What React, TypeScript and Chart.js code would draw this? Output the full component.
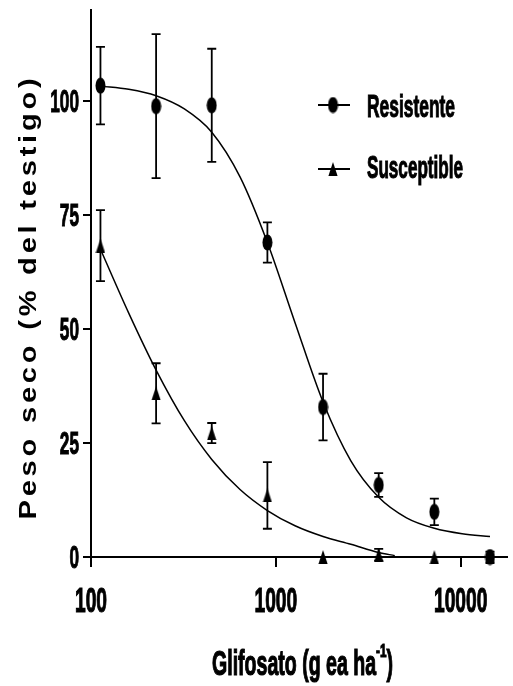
import React, { useEffect, useRef } from 'react';
import { Chart, registerables } from 'chart.js';

Chart.register(...registerables);

// ---- data ----
const doses = [112.5, 225, 450, 900, 1800, 3600, 7200, 14400];
const resistMean = [103.4, 98.9, 99.1, 69.0, 32.9, 15.8, 9.9, 0];
const resistErr = [8.5, 15.8, 12.4, 4.4, 7.3, 2.6, 2.9, 1.2];
const suscMean = [68.3, 35.9, 27.2, 13.5, 0, 0.5, 0, 0];
const suscErr = [7.8, 6.6, 2.2, 7.3, 0, 1.3, 0, 0];

// fitted curves
const resistCurveDose = [112.5, 160, 225, 320, 450, 640, 900, 1270, 1800, 2545, 3600, 5090, 7200, 10180, 14400];
const resistCurve = [103.3, 102.6, 101.2, 98.3, 93.2, 83.4, 69.0, 51.4, 34.0, 21.1, 13.1, 8.6, 6.3, 5.1, 4.5];
const suscCurveDose = [112.5, 160, 225, 320, 450, 640, 900, 1270, 1800, 2545, 3600, 4400];
const suscCurve = [67.5, 53.5, 41.0, 29.9, 21.4, 14.8, 10.2, 6.85, 4.5, 2.8, 1.0, 0.3];

const xTickValues = [100, 1000, 10000];
const yTickValues = [0, 25, 50, 75, 100];
const seriesNames = ['Resistente', 'Susceptible'];
const xTitleMain = 'Glifosato (g ea ha';
const xTitleSup = '-1';
const xTitleEnd = ')';
const yTitle = 'Peso seco (% del testigo)';

const FONT = '"Liberation Sans", Arial, sans-serif';

function makeEllipse(): HTMLCanvasElement {
  const c = document.createElement('canvas');
  c.width = 11; c.height = 17;
  const g = c.getContext('2d')!;
  g.fillStyle = '#000';
  g.beginPath();
  g.ellipse(5.5, 8.5, 5, 8, 0, 0, Math.PI * 2);
  g.fill();
  return c;
}
function makeTriangle(): HTMLCanvasElement {
  const c = document.createElement('canvas');
  c.width = 10; c.height = 14;
  const g = c.getContext('2d')!;
  g.fillStyle = '#000';
  g.beginPath();
  g.moveTo(5, 0); g.lineTo(9.6, 14); g.lineTo(0.4, 14); g.closePath();
  g.fill();
  return c;
}

function drawText(ctx: CanvasRenderingContext2D, text: string, x: number, y: number, size: number, sx: number, sy: number, align: CanvasTextAlign) {
  ctx.save();
  ctx.translate(x, y);
  ctx.scale(sx, sy);
  ctx.font = `bold ${size}px ${FONT}`;
  ctx.textAlign = align;
  ctx.textBaseline = 'alphabetic';
  ctx.fillStyle = '#000';
  ctx.strokeStyle = '#000';
  ctx.lineWidth = 0.7;
  ctx.fillText(text, 0, 0);
  ctx.strokeText(text, 0, 0);
  ctx.restore();
}

export default function App() {
  const ref = useRef<HTMLCanvasElement | null>(null);
  useEffect(() => {
    document.body.style.margin = '0';
    const ellipse = makeEllipse();
    const tri = makeTriangle();

    const errorBars = {
      id: 'errorBars',
      beforeDatasetsDraw(chart: any) {
        const { ctx, scales } = chart;
        const x = scales.x, y = scales.y;
        ctx.save();
        ctx.strokeStyle = '#000';
        ctx.lineWidth = 1.8;
        const sets: [number[], number[]][] = [[resistMean, resistErr], [suscMean, suscErr]];
        sets.forEach(([m, e]) => {
          doses.forEach((d, i) => {
            if (e[i] <= 0) return;
            const px = x.getPixelForValue(d);
            const top = y.getPixelForValue(m[i] + e[i]);
            const bot = y.getPixelForValue(m[i] - e[i]);
            ctx.beginPath();
            ctx.moveTo(px, top); ctx.lineTo(px, bot);
            ctx.moveTo(px - 4.5, top); ctx.lineTo(px + 4.5, top);
            ctx.moveTo(px - 4.5, bot); ctx.lineTo(px + 4.5, bot);
            ctx.stroke();
          });
        });
        ctx.restore();
      },
    };

    const texts = {
      id: 'texts',
      afterDraw(chart: any) {
        const { ctx, scales } = chart;
        const x = scales.x, y = scales.y;
        // x tick labels
        x.ticks.forEach((t: any) => {
          drawText(ctx, String(t.value), x.getPixelForValue(t.value), 612, 20, 0.96, 1.75, 'center');
        });
        // y tick labels
        y.ticks.forEach((t: any) => {
          drawText(ctx, String(t.value), 79, y.getPixelForValue(t.value) + 11, 20, 0.86, 1.54, 'right');
        });
        // x title
        ctx.save();
        ctx.font = `bold 20px ${FONT}`;
        const w1 = ctx.measureText(xTitleMain).width;
        const w3 = ctx.measureText(xTitleEnd).width;
        ctx.font = `bold 12px ${FONT}`;
        const w2 = ctx.measureText(xTitleSup).width;
        ctx.restore();
        const total = w1 + w2 + w3;
        const sx = 181 / total;
        const x0 = 212;
        drawText(ctx, xTitleMain, x0, 675, 20, sx, 1.75, 'left');
        drawText(ctx, xTitleSup, x0 + w1 * sx, 657, 12, sx, 1.6, 'left');
        drawText(ctx, xTitleEnd, x0 + (w1 + w2) * sx, 675, 20, sx, 1.75, 'left');
        // y title (rotated, letter-spaced)
        ctx.save();
        ctx.font = `bold 23px ${FONT}`;
        (ctx as any).letterSpacing = '3px';
        const yw = ctx.measureText(yTitle).width;
        ctx.translate(30, 297);
        ctx.rotate(-Math.PI / 2);
        ctx.scale(445 / yw, 1);
        ctx.textAlign = 'center';
        ctx.textBaseline = 'middle';
        ctx.fillStyle = '#000';
        ctx.fillText(yTitle, 0, 0);
        ctx.restore();
        // legend
        const rows = [
          { name: seriesNames[0], img: ellipse, ly: 105, base: 117 },
          { name: seriesNames[1], img: tri, ly: 169, base: 178 },
        ];
        rows.forEach((r) => {
          ctx.save();
          ctx.strokeStyle = '#000';
          ctx.lineWidth = 2;
          ctx.beginPath();
          ctx.moveTo(318, r.ly); ctx.lineTo(350, r.ly);
          ctx.stroke();
          ctx.drawImage(r.img, 333 - r.img.width / 2, r.ly - r.img.height / 2);
          ctx.restore();
          ctx.save();
          ctx.font = `bold 20px ${FONT}`;
          const w = ctx.measureText(r.name).width;
          ctx.restore();
          const target = r.name === seriesNames[0] ? 88 : 96;
          drawText(ctx, r.name, 367, r.base, 20, target / w, 1.54, 'left');
        });
      },
    };

    const chart = new Chart(ref.current!, {
      type: 'line',
      data: {
        datasets: [
          {
            label: seriesNames[0] + ' curve',
            data: resistCurveDose.map((d, i) => ({ x: d, y: resistCurve[i] })),
            borderColor: '#000',
            borderWidth: 1.5,
            pointRadius: 0,
            cubicInterpolationMode: 'monotone',
            fill: false,
          },
          {
            label: seriesNames[1] + ' curve',
            data: suscCurveDose.map((d, i) => ({ x: d, y: suscCurve[i] })),
            borderColor: '#000',
            borderWidth: 1.5,
            pointRadius: 0,
            cubicInterpolationMode: 'monotone',
            fill: false,
          },
          {
            label: seriesNames[0],
            data: doses.map((d, i) => ({ x: d, y: resistMean[i] })),
            showLine: false,
            pointStyle: ellipse as any,
            pointRadius: 5,
            backgroundColor: '#000',
            borderColor: '#000',
            clip: false as any,
          },
          {
            label: seriesNames[1],
            data: doses.map((d, i) => ({ x: d, y: suscMean[i] })),
            showLine: false,
            pointStyle: tri as any,
            pointRadius: 5,
            backgroundColor: '#000',
            borderColor: '#000',
            clip: false as any,
          },
        ],
      } as any,
      options: {
        responsive: false,
        animation: false,
        devicePixelRatio: 1,
        layout: { padding: { top: 10, right: 1, left: 0, bottom: 0 } },
        plugins: { legend: { display: false }, tooltip: { enabled: false }, title: { display: false } },
        scales: {
          x: {
            type: 'logarithmic',
            min: 100,
            max: 17800,
            afterBuildTicks: (s: any) => { s.ticks = xTickValues.map((v) => ({ value: v })); },
            afterFit: (s: any) => { s.height = 129; },
            ticks: { display: false },
            grid: { display: true, drawOnChartArea: false, drawTicks: true, tickLength: 10, color: '#000', lineWidth: 2 },
            border: { display: true, color: '#000', width: 2 },
          },
          y: {
            type: 'linear',
            min: 0,
            max: 120,
            afterBuildTicks: (s: any) => { s.ticks = yTickValues.map((v) => ({ value: v })); },
            afterFit: (s: any) => { s.width = 91; },
            ticks: { display: false },
            grid: { display: true, drawOnChartArea: false, drawTicks: true, tickLength: 8, color: '#000', lineWidth: 2 },
            border: { display: true, color: '#000', width: 2 },
          },
        },
      } as any,
      plugins: [errorBars, texts],
    });
    return () => chart.destroy();
  }, []);
  return (
    <div style={{ width: 513, height: 686, background: '#fff' }}>
      <canvas ref={ref} width={513} height={686} style={{ display: 'block' }} />
    </div>
  );
}
